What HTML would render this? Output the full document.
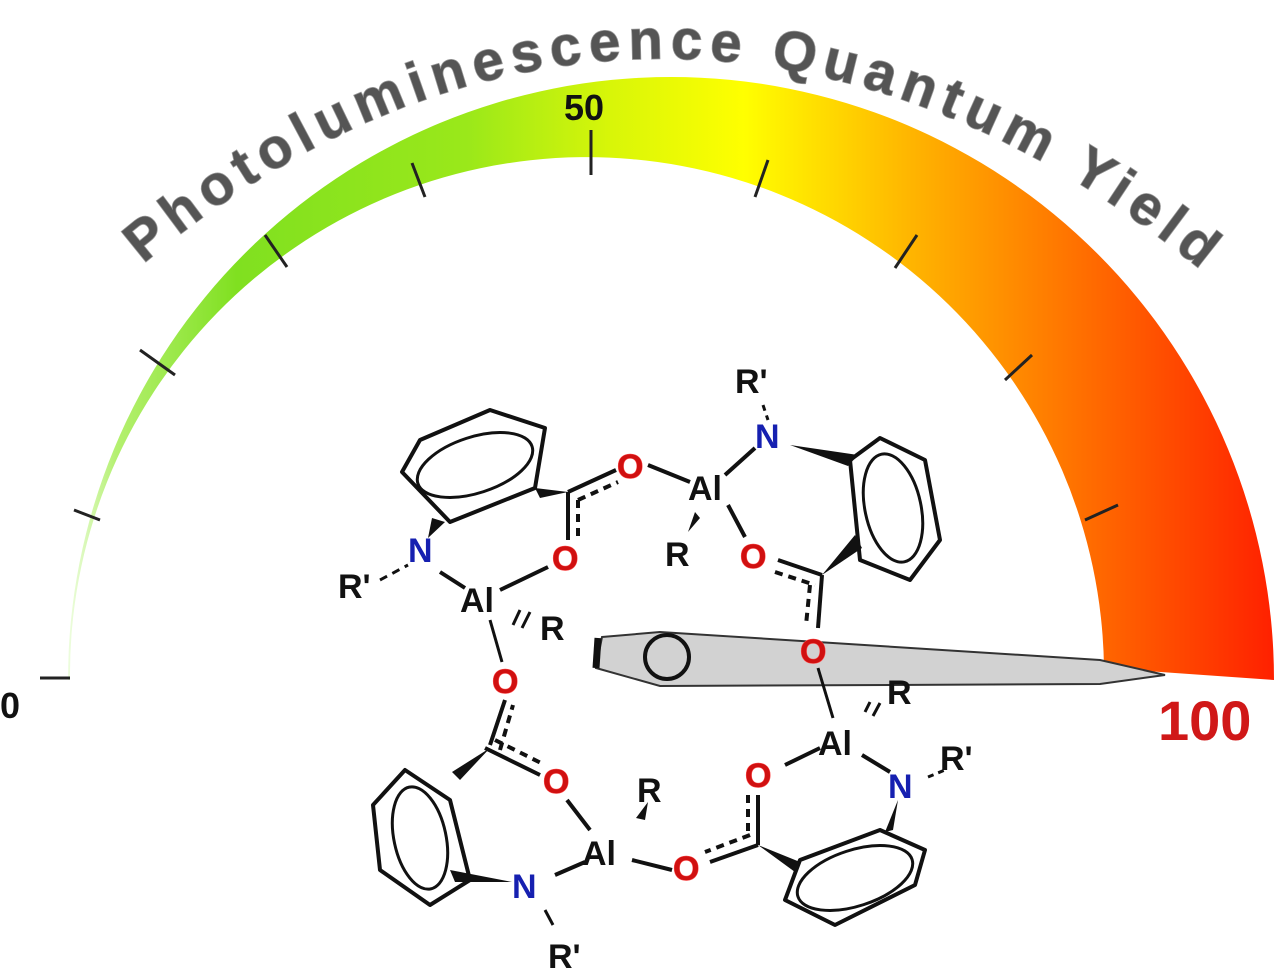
<!DOCTYPE html>
<html><head><meta charset="utf-8"><style>
html,body{margin:0;padding:0;background:#fff;}
svg{display:block}
.t{font-family:"Liberation Sans",Arial,sans-serif;font-weight:bold;}
</style></head><body>
<svg width="1280" height="970" viewBox="0 0 1280 970">
<defs>
<linearGradient id="g" gradientUnits="userSpaceOnUse" x1="68" y1="0" x2="1275" y2="0">
<stop offset="0" stop-color="#eefde0"/>
<stop offset="0.04" stop-color="#b4f070"/>
<stop offset="0.14" stop-color="#80e020"/>
<stop offset="0.33" stop-color="#9ae81a"/>
<stop offset="0.45" stop-color="#d8f608"/>
<stop offset="0.56" stop-color="#ffff00"/>
<stop offset="0.7" stop-color="#ffb400"/>
<stop offset="0.85" stop-color="#ff6a00"/>
<stop offset="1" stop-color="#ff2000"/>
</linearGradient>
<path id="arc" d="M143,264 C 474,-14 870,-14 1225,290"/>
</defs>
<path d="M68,680 A603,603 0 0,1 1274,680 L1104,668 A517,517 0 0,0 70,680 Z" fill="url(#g)"/>
<g stroke="#222" stroke-width="3" fill="none">
<line x1="40" y1="678" x2="70" y2="678"/>
<line x1="74" y1="510" x2="100" y2="520"/>
<line x1="140" y1="350" x2="175" y2="375"/>
<line x1="265" y1="235" x2="287" y2="267"/>
<line x1="412" y1="163" x2="425" y2="197"/>
<line x1="591" y1="130" x2="591" y2="175"/>
<line x1="768" y1="160" x2="755" y2="197"/>
<line x1="917" y1="235" x2="895" y2="268"/>
<line x1="1032" y1="355" x2="1005" y2="380"/>
<line x1="1118" y1="505" x2="1085" y2="520"/>
</g>
<text class="t" font-size="56" fill="#555" stroke="#999" stroke-width="1.5" style="paint-order:stroke"><textPath href="#arc" textLength="1160" lengthAdjust="spacing">Photoluminescence Quantum Yield</textPath></text>
<text class="t" x="0" y="718" font-size="36" fill="#111">0</text>
<text class="t" x="564" y="120" font-size="36" fill="#111">50</text>
<text class="t" x="1158" y="740" font-size="56" fill="#d01818">100</text>
<polygon points="602,637 660,632 1100,660 1165,675 1100,684 660,686 596,668" fill="#d2d2d2" stroke="#333" stroke-width="2"/>
<line x1="598" y1="638" x2="596" y2="668" stroke="#111" stroke-width="7"/>
<circle cx="667" cy="657" r="22" fill="none" stroke="#111" stroke-width="4"/>
<g stroke="#111" stroke-width="4" fill="none" stroke-linejoin="round">
<polygon points="402,472 420,440 490,410 545,428 535,488 450,522"/>
<ellipse cx="475" cy="465" rx="60" ry="28" transform="rotate(-18 475 465)" stroke-width="3"/>
<polygon points="850,460 880,438 925,460 940,540 910,580 860,560"/>
<ellipse cx="893" cy="508" rx="28" ry="55" transform="rotate(-12 893 508)" stroke-width="3"/>
<polygon points="373,805 405,770 450,800 470,880 430,905 380,870"/>
<ellipse cx="420" cy="838" rx="26" ry="52" transform="rotate(-12 420 838)" stroke-width="3"/>
<polygon points="785,900 800,860 880,830 925,850 915,885 835,925"/>
<ellipse cx="855" cy="878" rx="60" ry="28" transform="rotate(-18 855 878)" stroke-width="3"/>
<line x1="568" y1="492" x2="568" y2="540"/>
<line x1="578" y1="500" x2="578" y2="540" stroke-dasharray="8,6"/>
<line x1="568" y1="492" x2="616" y2="470"/>
<line x1="578" y1="500" x2="618" y2="482" stroke-dasharray="8,6"/>
<line x1="440" y1="572" x2="465" y2="588"/>
<line x1="548" y1="567" x2="500" y2="590"/>
<line x1="380" y1="580" x2="408" y2="565" stroke-dasharray="8,6" stroke-width="3"/>
<line x1="490" y1="620" x2="502" y2="662" stroke-width="3"/>
<line x1="513" y1="625" x2="520" y2="610" stroke-width="3"/>
<line x1="522" y1="628" x2="530" y2="612" stroke-width="3"/>
<line x1="648" y1="465" x2="690" y2="482"/>
<line x1="725" y1="475" x2="755" y2="448"/>
<line x1="728" y1="505" x2="745" y2="537"/>
<line x1="763" y1="405" x2="768" y2="420" stroke-dasharray="6,5" stroke-width="3"/>
<line x1="778" y1="560" x2="822" y2="575"/>
<line x1="775" y1="572" x2="815" y2="585" stroke-dasharray="8,6"/>
<line x1="822" y1="575" x2="818" y2="628"/>
<line x1="810" y1="585" x2="806" y2="625" stroke-dasharray="8,6"/>
<line x1="818" y1="668" x2="833" y2="718" stroke-width="3"/>
<line x1="865" y1="712" x2="870" y2="702" stroke-width="3"/>
<line x1="873" y1="716" x2="880" y2="703" stroke-width="3"/>
<line x1="820" y1="748" x2="785" y2="765"/>
<line x1="862" y1="755" x2="890" y2="772"/>
<line x1="928" y1="777" x2="945" y2="770" stroke-dasharray="6,5" stroke-width="3"/>
<line x1="758" y1="795" x2="758" y2="845"/>
<line x1="748" y1="795" x2="748" y2="835" stroke-dasharray="8,6"/>
<line x1="758" y1="845" x2="710" y2="862"/>
<line x1="750" y1="835" x2="705" y2="852" stroke-dasharray="8,6"/>
<line x1="490" y1="745" x2="505" y2="700"/>
<line x1="500" y1="750" x2="513" y2="705" stroke-dasharray="8,6"/>
<line x1="485" y1="748" x2="540" y2="775"/>
<line x1="495" y1="740" x2="545" y2="765" stroke-dasharray="8,6"/>
<line x1="567" y1="800" x2="590" y2="830"/>
<line x1="632" y1="860" x2="672" y2="870"/>
<line x1="555" y1="875" x2="585" y2="862"/>
<line x1="545" y1="910" x2="553" y2="925" stroke-width="3"/>
</g>
<g fill="#111">
<polygon points="535,488 568,492 540,498"/>
<polygon points="432,518 445,522 428,538"/>
<polygon points="790,445 858,455 848,466"/>
<polygon points="822,575 855,535 862,548"/>
<polygon points="688,532 695,512 700,518"/>
<polygon points="885,832 898,800 893,830"/>
<polygon points="758,845 800,862 795,872"/>
<polygon points="490,748 460,780 452,772"/>
<polygon points="450,870 455,882 512,882"/>
<polygon points="636,818 648,802 645,820"/>
</g>
<g class="t" font-size="34">
<g fill="#d01010" stroke="#ff5050" stroke-width="1" style="paint-order:stroke">
<text x="617" y="478">O</text>
<text x="552" y="570">O</text>
<text x="740" y="568">O</text>
<text x="800" y="663">O</text>
<text x="492" y="693">O</text>
<text x="543" y="793">O</text>
<text x="745" y="787">O</text>
<text x="673" y="880">O</text>
</g>
<g fill="#1620b0">
<text x="408" y="562">N</text>
<text x="755" y="448">N</text>
<text x="888" y="798">N</text>
<text x="512" y="898">N</text>
</g>
<g fill="#111">
<text x="688" y="500">Al</text>
<text x="460" y="612">Al</text>
<text x="818" y="755">Al</text>
<text x="582" y="865">Al</text>
<text x="665" y="566">R</text>
<text x="540" y="640">R</text>
<text x="887" y="704">R</text>
<text x="637" y="802">R</text>
<text x="338" y="598">R'</text>
<text x="735" y="393">R'</text>
<text x="940" y="770">R'</text>
<text x="548" y="968">R'</text>
</g>
</g>
</svg>
</body></html>
